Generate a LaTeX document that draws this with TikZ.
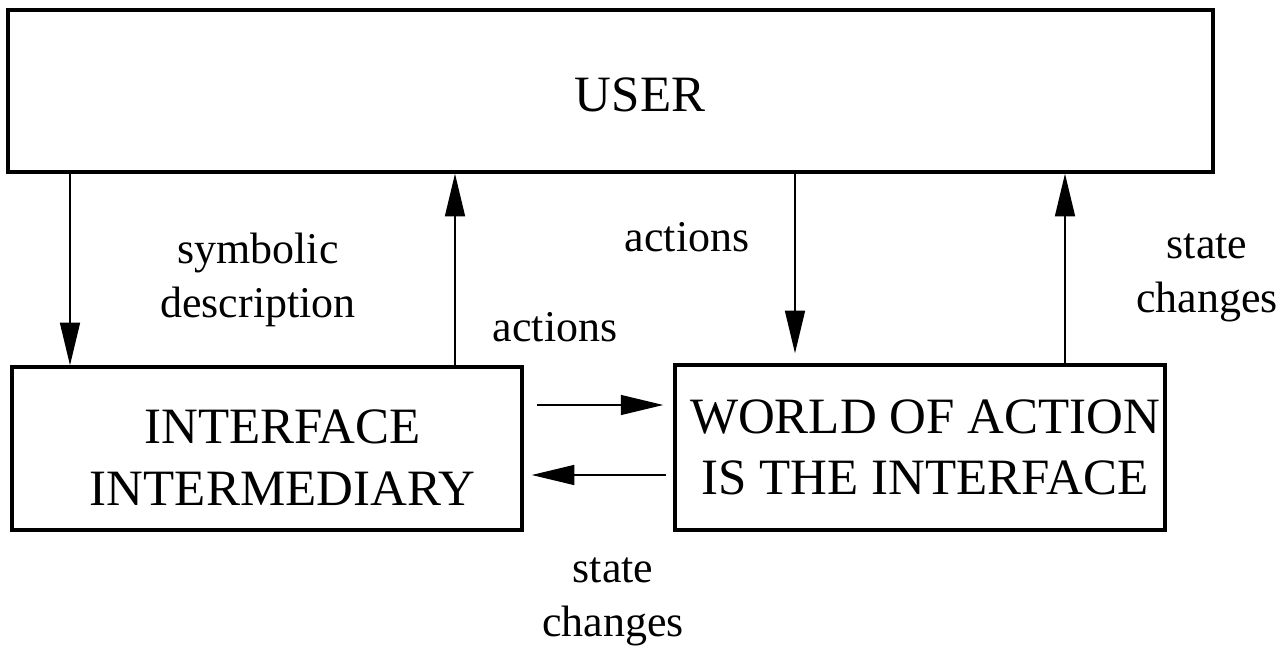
\documentclass[tikz,border=0pt]{standalone}
\usepackage{fontspec}
\setmainfont{Liberation Serif}
\usetikzlibrary{positioning,calc,arrows.meta}

\begin{document}
\begin{tikzpicture}[
    bigbox/.style={draw, rectangle, line width=2pt, inner sep=0pt},
    boxtext/.style={font=\fontsize{29}{35}\selectfont, align=center},
    lbl/.style={font=\fontsize{25}{31}\selectfont, align=center},
    arr/.style={line width=0.8pt, -{Triangle[length=0.85cm, width=0.4cm]}}
]
    \useasboundingbox (0,0) rectangle (25.52,-13.32);

    % User
    \node[bigbox, minimum width=24.1cm, minimum height=3.24cm] (user) at (12.21,-1.82) {};
    \node[boxtext] (usertxt) at (12.8,-1.9) {USER};

    % Interface intermediary
    \node[bigbox, minimum width=10.2cm, minimum height=3.26cm] (iface) at (5.34,-8.97) {};
    \node[boxtext] (ifacetxt) at (5.65,-9.15) {INTERFACE\\INTERMEDIARY};

    % World of action
    \node[bigbox, minimum width=9.8cm, minimum height=3.3cm] (world) at (18.4,-8.95) {};
    \node[boxtext] (worldtxt) at (18.5,-8.95) {WORLD OF ACTION\\IS THE INTERFACE};

    % Labels
    \node[lbl] (symb) at (5.16,-5.6) {symbolic\\description};
    \node[lbl] (act1) at (11.1,-6.54) {actions};
    \node[lbl] (act2) at (13.74,-4.74) {actions};
    \node[lbl] (state1) at (24.14,-5.56) {state\\changes};
    \node[lbl] (state2) at (12.26,-12.04) {state\\changes};

    % Arrows
    \draw[arr] (user.south -| 1.4,0) -- (iface.north -| 1.4,0);
    \draw[arr] (iface.north -| 9.1,0) -- (user.south -| 9.1,0);
    \draw[arr, shorten >=0.2cm] (user.south -| 15.9,0) -- (world.north -| 15.9,0);
    \draw[arr] (world.north -| 21.3,0) -- (user.south -| 21.3,0);
    \draw[arr, shorten <=0.26cm, shorten >=0.2cm] (iface.east |- 0,-8.1) -- (world.west |- 0,-8.1);
    \draw[arr, shorten <=0.14cm, shorten >=0.16cm] (world.west |- 0,-9.5) -- (iface.east |- 0,-9.5);

\end{tikzpicture}
\end{document}
